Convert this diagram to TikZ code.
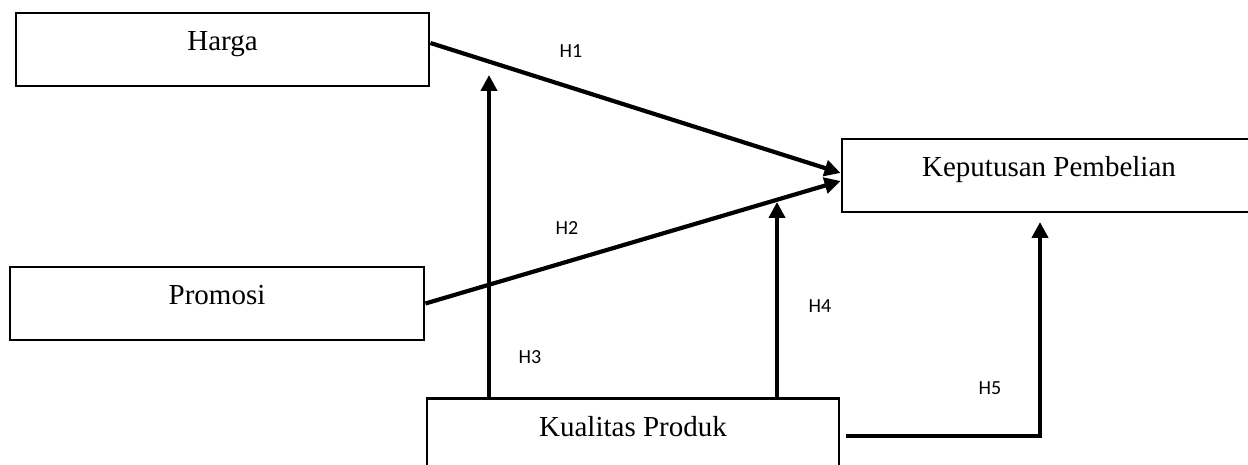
\documentclass[tikz,border=0pt]{standalone}
\usepackage{fontspec}
\setmainfont{Liberation Serif}
\newfontfamily\hfont{Carlito}
\usetikzlibrary{arrows.meta}
\begin{document}
\begin{tikzpicture}[x=1pt,y=-1pt,
  varbox/.style={draw,line width=2.9pt,inner xsep=0pt,inner ysep=0pt,
    text height=38pt,text depth=35pt,font=\fontsize{29}{32}\selectfont},
  link/.style={line width=4.2pt,-{Triangle[length=16pt,width=16pt]}},
  hlabel/.style={font=\hfont\fontsize{20}{22}\selectfont,inner sep=0pt}]
\useasboundingbox (0,0) rectangle (1248,465);
\node[varbox,minimum width=413pt] (harga) at (222.5,49.5) {Harga};
\node[varbox,minimum width=414pt] (promosi) at (217,303.5) {Promosi};
\node[varbox,minimum width=414pt] (kep) at (1049,175.5) {Keputusan Pembelian};
\node[varbox,minimum width=412pt,text depth=55pt,anchor=north] (kp) at (633,397) {Kualitas Produk};
\coordinate (h3top) at (489,75);
\coordinate (h4top) at (777,202);
\coordinate (h5s) at (846,436);
\coordinate (h5c) at (1040,436);
\coordinate (h5top) at (1040,222);
\draw[link] ([yshift=6.5pt]harga.east) -- ([yshift=2.5pt]kep.west);
\draw[link] (promosi.east) -- ([yshift=-5.5pt]kep.west);
\draw[link] (kp.north -| h3top) -- (h3top);
\draw[link] (kp.north -| h4top) -- (h4top);
\draw[link] (h5s) -- (h5c) -- (h5top);
\node[hlabel] (H1) at (571,51) {H1};
\node[hlabel] (H2) at (567,228) {H2};
\node[hlabel] (H3) at (530,357) {H3};
\node[hlabel] (H4) at (820,306) {H4};
\node[hlabel] (H5) at (990,388) {H5};
\end{tikzpicture}
\end{document}
